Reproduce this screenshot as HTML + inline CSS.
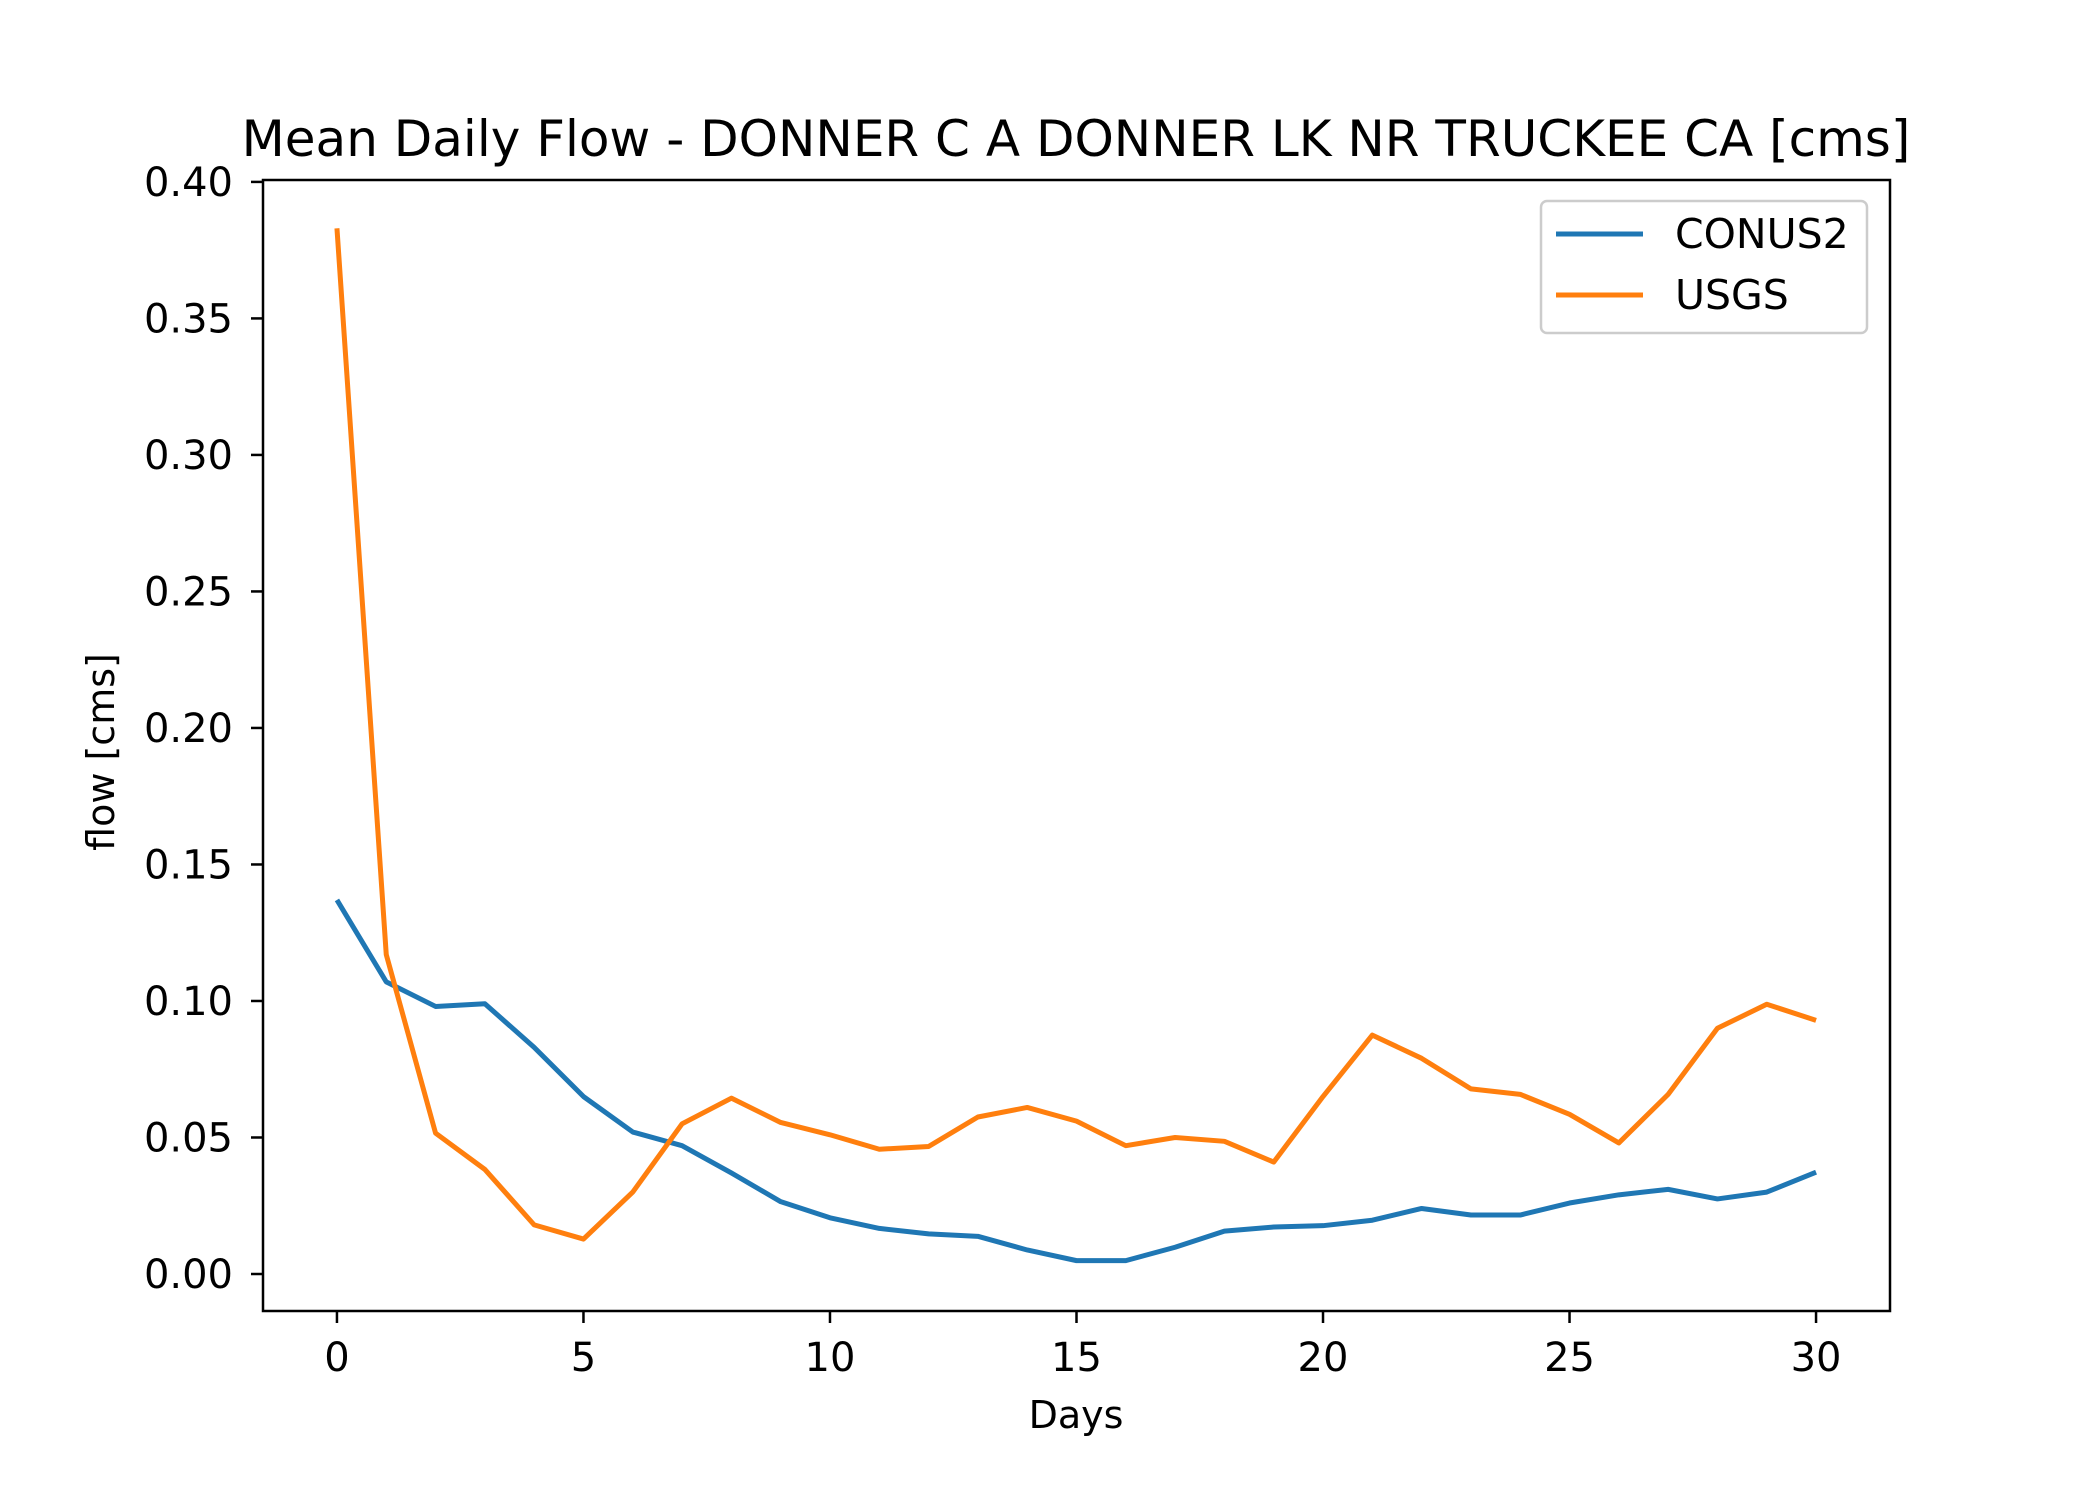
<!DOCTYPE html>
<html><head><meta charset="utf-8"><style>
html,body{margin:0;padding:0;background:#fff;}
svg{display:block;font-family:"DejaVu Sans","Liberation Sans",sans-serif;}
</style></head><body>
<svg id="chart" width="2100" height="1500" viewBox="0 0 2100 1500" xmlns="http://www.w3.org/2000/svg">
<rect width="2100" height="1500" fill="#fff"/>
<text x="1076" y="156" text-anchor="middle" font-size="50">Mean Daily Flow - DONNER C A DONNER LK NR TRUCKEE CA [cms]</text>
<g id="axes"></g>
<g id="series"></g>
<rect x="263" y="180" width="1627" height="1131" fill="none" stroke="#000" stroke-width="2.5"/>
<text x="1076" y="1428" text-anchor="middle" font-size="38">Days</text>
<text x="114" y="752" text-anchor="middle" font-size="38" transform="rotate(-90 114 752)">flow [cms]</text>
<g>
<rect x="1541" y="201" width="326" height="132" rx="6" fill="#fff" fill-opacity="0.8" stroke="#ccc" stroke-width="2.5"/>
<line x1="1556" y1="234" x2="1643" y2="234" stroke="#1f77b4" stroke-width="5"/>
<text x="1675" y="248" font-size="41">CONUS2</text>
<line x1="1556" y1="295" x2="1643" y2="295" stroke="#ff7f0e" stroke-width="5"/>
<text x="1675" y="309" font-size="41">USGS</text>
</g>
</svg>
<script>
const days = [0,1,2,3,4,5,6,7,8,9,10,11,12,13,14,15,16,17,18,19,20,21,22,23,24,25,26,27,28,29,30];
const conus2 = [0.137,0.107,0.098,0.099,0.083,0.065,0.052,0.047,0.037,0.0265,0.0206,0.0167,0.0147,0.0138,0.0088,0.0049,0.0049,0.0098,0.0157,0.0172,0.0177,0.0197,0.024,0.0216,0.0216,0.026,0.029,0.031,0.0275,0.030,0.0373];
const usgs = [0.383,0.117,0.0516,0.0383,0.018,0.0128,0.030,0.055,0.0644,0.0555,0.051,0.0457,0.0467,0.0575,0.061,0.056,0.047,0.050,0.0486,0.041,0.065,0.0875,0.079,0.0678,0.0658,0.0585,0.048,0.0658,0.090,0.0988,0.0929];
const xTicks = [0,5,10,15,20,25,30];
const yTicks = [0,0.05,0.10,0.15,0.20,0.25,0.30,0.35,0.40];
const yTickLabels = ["0.00","0.05","0.10","0.15","0.20","0.25","0.30","0.35","0.40"];

const L=263,R=1890,T=180,B=1311;
const xMin=-1.5,xMax=31.5,yMin=-0.01355,yMax=0.4007;
const sx=v=>L+(v-xMin)/(xMax-xMin)*(R-L);
const sy=v=>B-(v-yMin)/(yMax-yMin)*(B-T);
const NS='http://www.w3.org/2000/svg';
const axes=document.getElementById('axes');
function mk(tag,attrs,parent){const e=document.createElementNS(NS,tag);for(const k in attrs)e.setAttribute(k,attrs[k]);parent.appendChild(e);return e;}
xTicks.forEach(t=>{
  const l=mk('line',{x1:sx(t),x2:sx(t),y1:B,y2:B+12,stroke:'#000','stroke-width':2.5},axes);
  
  
  const tx=mk('text',{x:sx(t),y:B+60,'text-anchor':'middle','font-size':40},axes);
  
  
  tx.textContent=String(t);
});
yTicks.forEach((t,i)=>{
  const l=mk('line',{x1:L-12,x2:L,y1:sy(t),y2:sy(t),stroke:'#000','stroke-width':2.5},axes);
  
  
  const tx=mk('text',{x:L-30,y:sy(t)+14,'text-anchor':'end','font-size':40},axes);
  
  
  tx.textContent=yTickLabels[i];
});
const ser=document.getElementById('series');
function line(vals,color,name){
  const p=mk('polyline',{points:vals.map((v,i)=>sx(days[i])+','+sy(v)).join(' '),fill:'none',stroke:color,'stroke-width':5,'stroke-linejoin':'round'},ser);
  
  
}
line(conus2,'#1f77b4','conus2-line');
line(usgs,'#ff7f0e','usgs-line');
</script>
</body></html>
